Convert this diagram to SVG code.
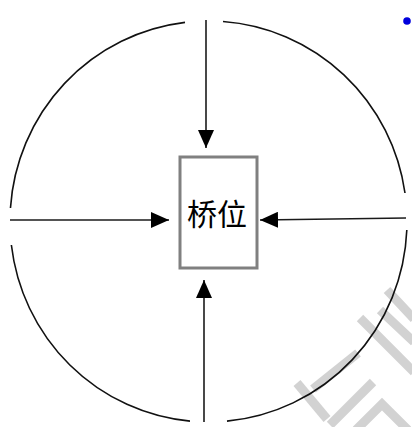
<svg xmlns="http://www.w3.org/2000/svg" width="412" height="427" viewBox="0 0 412 427">
  <style>
    .wm { stroke: #d2d2d2; stroke-width: 9; fill: none; }
    .ring { stroke: #111; stroke-width: 1.6; fill: none; }
    .conn { stroke: #1a1a1a; stroke-width: 1.6; fill: none; }
    .box { fill: #fff; stroke: #808080; stroke-width: 3; }
    .label { font-family: "Noto Sans CJK SC", "Noto Sans", sans-serif; font-size: 30px; fill: #000; }
  </style>
  <defs>
    <marker id="ahb" viewBox="0 0 18 16" refX="18" refY="8" markerWidth="18" markerHeight="16" markerUnits="userSpaceOnUse" orient="auto">
      <path d="M0,0 L18,8 L0,16 Z" fill="#000"/>
    </marker>
  </defs>
  <rect width="412" height="427" fill="#fff"/>
  <g id="watermark">
    <line class="wm" x1="387" y1="290" x2="414" y2="319"/>
    <line class="wm" x1="380" y1="310" x2="414" y2="342"/>
    <line class="wm" x1="360" y1="318" x2="414" y2="372"/>
    <line class="wm" x1="358" y1="353" x2="313" y2="389"/>
    <line class="wm" x1="297" y1="383" x2="327" y2="419"/>
    <line class="wm" x1="373" y1="382" x2="330" y2="425"/>
    <polyline class="wm" points="356,430 382,404 408,430"/>
  </g>
  <g id="ring">
    <path class="ring" d="M223,21.54 A198.5,200.5 0 0 1 404.99,193"/>
    <path class="ring" d="M406.82,230 A198.5,200.5 0 0 1 227,421.13"/>
    <path class="ring" d="M190,421.13 A198.5,200.5 0 0 1 11.37,245"/>
    <path class="ring" d="M10.45,208 A198.5,200.5 0 0 1 185,22.41"/>
  </g>
  <g id="connectors">
    <line class="conn" x1="206" y1="20" x2="206" y2="148" marker-end="url(#ahb)"/>
    <line class="conn" x1="10" y1="220" x2="169" y2="220" marker-end="url(#ahb)"/>
    <line class="conn" x1="406" y1="218" x2="260" y2="220" marker-end="url(#ahb)"/>
    <line class="conn" x1="204" y1="422" x2="204" y2="280" marker-end="url(#ahb)"/>
  </g>
  <g id="bridge">
    <rect class="box" x="180" y="157" width="77" height="111"/>
    <text class="label" x="217" y="225" text-anchor="middle">桥位</text>
  </g>
  <g id="dot">
    <circle cx="407" cy="21" r="3.8" fill="#0000dd"/>
  </g>
</svg>
